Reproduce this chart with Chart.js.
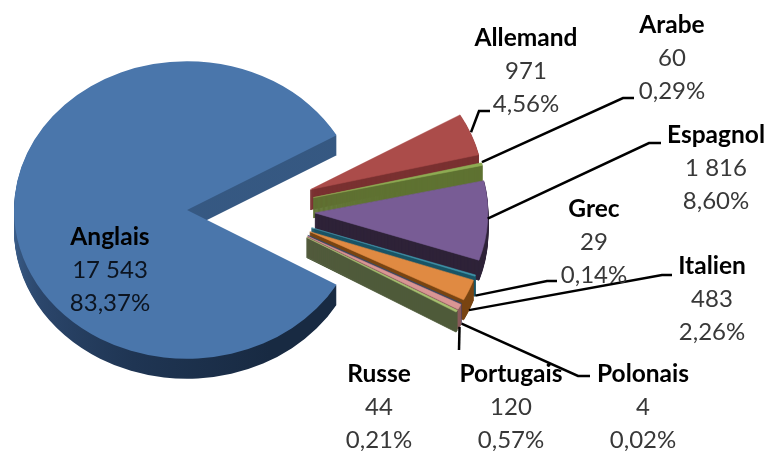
<!DOCTYPE html>
<html lang="fr">
<head>
<meta charset="utf-8">
<title>Langues</title>
<style>
  html, body { margin: 0; padding: 0; background: #fff; }
  canvas { display: block; }
</style>
</head>
<body>
<canvas id="pie" width="767" height="451"></canvas>
<script src="https://cdn.jsdelivr.net/npm/chart.js@4/dist/chart.umd.min.js"></script>
<script>
// ==========================
// DATA
// ==========================
var categories = ['Anglais', 'Allemand', 'Arabe', 'Espagnol', 'Grec', 'Italien', 'Polonais', 'Portugais', 'Russe'];
var values     = [17543, 971, 60, 1816, 29, 483, 4, 120, 44];
var valueTexts = ['17 543', '971', '60', '1 816', '29', '483', '4', '120', '44'];
var percents   = ['83,37%', '4,56%', '0,29%', '8,60%', '0,14%', '2,26%', '0,02%', '0,57%', '0,21%'];

// ==========================
// STYLE AND LAYOUT
// ==========================
var topColors  = ['#4a76ab', '#ab4c4a', '#8eab53', '#785c95', '#3f93a8', '#e08a42', '#2c4d75', '#d99694', '#a6c070'];
var wallColors = [null, '#7a3030', '#5f7232', '#2e2238', '#1a5566', '#7a4512', '#4a3a5a', '#8a5a5a', '#4f5a3a'];

var TILT = 0.86;      // ellipse height / width
var DEPTH = 20;       // thickness of the pie
var EXPLODE = 64;     // distance of each slice from the centre
var LINE_HEIGHT = 33;

// label centre x, first line centre y
var labelPos = [[110, 237], [526, 38], [672, 25], [716, 135], [594, 209], [712, 266], [643, 374], [511, 374], [379, 374]];

// elbow and end of the leader lines, the start comes from the slice
var leaderEnds = [
  null,
  [[479, 111], [490, 111]],
  [[623, 98], [634, 98]],
  [[649, 143], [661, 143]],
  [[547, 281], [557, 281]],
  [[662, 275], [672, 275]],
  [[578, 376], [590, 376]],
  [[459, 350]],
  null
];
var leaderDrop = [0, -2, -2, -2, DEPTH, DEPTH, DEPTH, DEPTH, 0];

// ==========================
// 3D PIE PLUGIN
// ==========================
function anglaisWall(ctx, arc) {
  var g = ctx.createConicGradient(-Math.PI / 2, arc.x, arc.y);
  g.addColorStop(0, '#3d628f');
  g.addColorStop(0.2, '#34567f');
  g.addColorStop(0.28, '#34567f');
  g.addColorStop(0.3, '#182a42');
  g.addColorStop(0.42, '#182a42');
  g.addColorStop(0.55, '#1f3553');
  g.addColorStop(0.66, '#2b466b');
  g.addColorStop(0.75, '#3d628f');
  g.addColorStop(1, '#3d628f');
  return g;
}

function drawSlice(ctx, arc, color, dy, border) {
  var mid = (arc.startAngle + arc.endAngle) / 2;
  var orig = arc.options;
  arc.options = Object.assign({}, orig, { backgroundColor: color, borderColor: color, borderWidth: border });
  ctx.save();
  ctx.translate(arc.x, arc.y + dy);
  ctx.scale(1, TILT);
  ctx.translate(-arc.x, -arc.y);
  ctx.translate(Math.cos(mid) * EXPLODE, Math.sin(mid) * EXPLODE);
  arc.draw(ctx);
  ctx.restore();
  arc.options = orig;
}

var pie3d = {
  id: 'pie3d',
  beforeDatasetDraw: function(chart, args) {
    var ctx = chart.ctx;
    args.meta.data.forEach(function(arc, i) {
      var wall = wallColors[i] || anglaisWall(ctx, arc);
      // thin slices need a stroke or the stacked copies fade out at the tip
      for (var k = DEPTH; k > 0; k--) {
        drawSlice(ctx, arc, wall, k, i === 0 ? 0 : 1);
      }
      drawSlice(ctx, arc, topColors[i], 0, i === 0 ? 0 : 0.6);
    });
    return false;
  }
};

// ==========================
// LABELS AND LEADER LINES
// ==========================
var pieLabels = {
  id: 'pieLabels',
  afterDraw: function(chart) {
    var ctx = chart.ctx;
    var arcs = chart.getDatasetMeta(0).data;

    ctx.save();
    ctx.strokeStyle = '#000';
    ctx.lineWidth = 2.5;
    arcs.forEach(function(arc, i) {
      if (!leaderEnds[i]) return;
      var mid = (arc.startAngle + arc.endAngle) / 2;
      var reach = EXPLODE + arc.outerRadius;
      ctx.beginPath();
      ctx.moveTo(arc.x + Math.cos(mid) * reach, arc.y + Math.sin(mid) * reach * TILT + leaderDrop[i]);
      leaderEnds[i].forEach(function(p) { ctx.lineTo(p[0], p[1]); });
      ctx.stroke();
    });

    ctx.textAlign = 'center';
    ctx.textBaseline = 'middle';
    categories.forEach(function(name, i) {
      var x = labelPos[i][0];
      var y = labelPos[i][1];
      ctx.fillStyle = '#000';
      ctx.font = 'bold 24.5px Lato';
      ctx.fillText(name, x, y);
      ctx.fillStyle = i === 0 ? '#0c1420' : '#383838';
      ctx.font = '24px Lato';
      ctx.fillText(valueTexts[i], x, y + LINE_HEIGHT);
      ctx.fillText(percents[i], x, y + LINE_HEIGHT * 2);
    });
    ctx.restore();
  }
};

// ==========================
// CHART
// ==========================
var pieChart = new Chart(document.getElementById('pie'), {
  type: 'pie',
  data: {
    labels: categories,
    datasets: [{
      data: values,
      backgroundColor: topColors,
      borderWidth: 0
    }]
  },
  options: {
    responsive: false,
    animation: false,
    rotation: 120.15,
    radius: 173,
    layout: { padding: { right: 265, bottom: 31 } },
    plugins: {
      legend: { display: false },
      tooltip: { enabled: false }
    }
  },
  plugins: [pie3d, pieLabels]
});
</script>
</body>
</html>
